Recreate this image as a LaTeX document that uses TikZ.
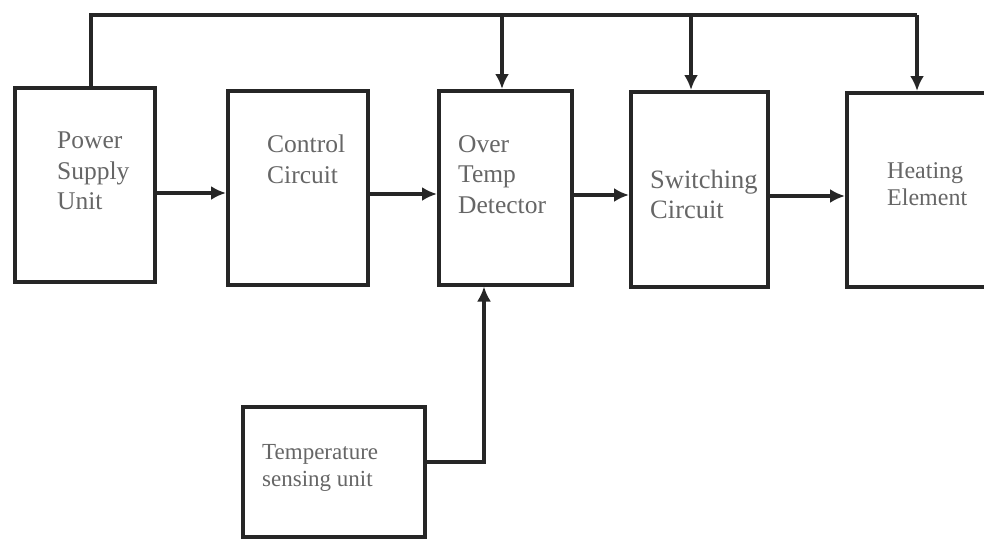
\documentclass[tikz,border=0pt]{standalone}
\usepackage{fontspec}
\setmainfont{Liberation Serif}
\usetikzlibrary{arrows.meta}
\begin{document}
\begin{tikzpicture}[x=1pt,y=-1pt,
  blk/.style={draw=black!85,line width=3.5pt,rectangle,inner sep=0pt,anchor=north west},
  lbl/.style={text=black!60,font=\fontsize{25.5}{30.5}\selectfont,align=left,anchor=north west,inner sep=0pt},
  conn/.style={draw=black!85,line width=3.5pt,-{Latex[length=15pt,width=14pt]}},
  wire/.style={draw=black!85,line width=3.5pt}]
\useasboundingbox (0,0) rectangle (984,538);
\fill[white] (0,0) rectangle (984,538);
\node[blk,minimum width=140pt,minimum height=194pt] (psu) at (13,86) {};
\node[blk,minimum width=140pt,minimum height=194pt] (ctrl) at (226,89) {};
\node[blk,minimum width=133pt,minimum height=194pt] (otd) at (437,89) {};
\node[blk,minimum width=137pt,minimum height=195pt] (sw) at (629,90) {};
\node[blk,minimum width=150pt,minimum height=194pt] (heat) at (845,91) {};
\node[blk,minimum width=182pt,minimum height=130pt] (tsu) at (241,405) {};
% labels
\node[lbl] (tpsu) at (57,132) {Power\\Supply\\Unit};
\node[lbl] (tctrl) at (267,135) {Control\\Circuit};
\node[lbl] (totd) at (458,135) {Over\\Temp\\Detector};
\node[lbl,font=\fontsize{26.5}{30}\selectfont] (tsw) at (650,170) {Switching\\Circuit};
\node[lbl,font=\fontsize{24}{27}\selectfont] (theat) at (887,162) {Heating\\Element};
\node[lbl,font=\fontsize{23}{27}\selectfont] (ttsu) at (262,444) {Temperature\\sensing unit};
% horizontal arrows
\draw[conn] (psu.east |- 0,193) -- (ctrl.west |- 0,193);
\draw[conn] (ctrl.east |- 0,194) -- (otd.west |- 0,194);
\draw[conn] (otd.east |- 0,195) -- (sw.west |- 0,195);
\draw[conn] (sw.east |- 0,196) -- (heat.west |- 0,196);
% top bus
\coordinate (bl) at (91,15);
\coordinate (br) at (917,15);
\coordinate (b1) at (502,15);
\coordinate (b2) at (691,15);
\draw[wire] (psu.north -| bl) -- (bl) -- (br);
\draw[conn] (br) -- (heat.north -| br);
\draw[conn] (b1) -- (otd.north -| b1);
\draw[conn] (b2) -- (sw.north -| b2);
% sensing to detector
\coordinate (sk) at (484,462);
\draw[conn] (tsu.east |- sk) -- (sk) -- (otd.south -| sk);
\end{tikzpicture}
\end{document}
